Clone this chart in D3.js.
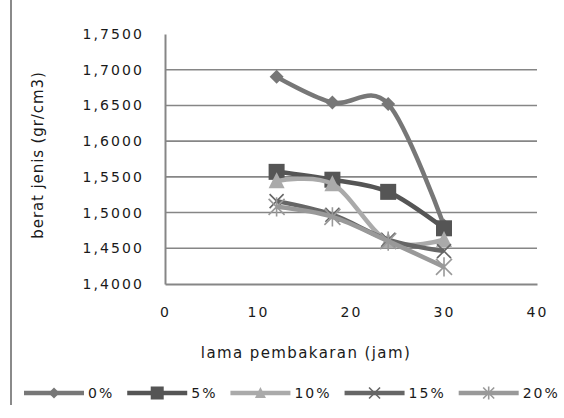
<!DOCTYPE html>
<html>
<head>
<meta charset="utf-8">
<script src="https://cdn.jsdelivr.net/npm/d3@7"></script>
<style>
  html, body { margin: 0; padding: 0; background: #fff; }
  svg { display: block; }
  text { font-family: "DejaVu Sans", sans-serif; fill: #1a1a1a; }
</style>
</head>
<body>
<svg id="chart" width="564" height="418"></svg>
<script>
const hours = [12, 18, 24, 30];
const seriesNames = ["0%", "5%", "10%", "15%", "20%"];
const s0 = [1.690, 1.654, 1.652, 1.482];
const s5 = [1.557, 1.546, 1.529, 1.478];
const s10 = [1.544, 1.540, 1.460, 1.462];
const s15 = [1.516, 1.497, 1.462, 1.446];
const s20 = [1.508, 1.494, 1.460, 1.424];
const yTicks = [1.40, 1.45, 1.50, 1.55, 1.60, 1.65, 1.70, 1.75];
const xTicks = [0, 10, 20, 30, 40];

const seriesValues = [s0, s5, s10, s15, s20];
const colors = ["#777777", "#555555", "#aaaaaa", "#666666", "#999999"];
const markers = ["diamond", "square", "triangle", "cross", "asterisk"];

const svg = d3.select("#chart");
const x = d3.scaleLinear().domain([0, 40]).range([165, 537]);
const y = d3.scaleLinear().domain([1.40, 1.75]).range([284, 34]);

// left border
svg.append("line").attr("x1", 11).attr("x2", 11).attr("y1", 0).attr("y2", 405)
  .attr("stroke", "#8a8a8a").attr("stroke-width", 2);

// gridlines
svg.append("g").selectAll("line").data(yTicks.filter(t => t > 1.40 && t < 1.75)).join("line")
  .attr("x1", x(0)).attr("x2", x(40)).attr("y1", d => y(d)).attr("y2", d => y(d))
  .attr("stroke", "#868686").attr("stroke-width", 1.6);

// axes
const fmt = d => d3.format(".4f")(d).replace(".", ",");
const yAxis = d3.axisLeft(y).tickValues(yTicks).tickFormat(fmt).tickSize(0).tickPadding(21);
const gy = svg.append("g").attr("transform", `translate(${x(0)},0)`).call(yAxis);
gy.select(".domain").attr("stroke", "#868686").attr("stroke-width", 2);
gy.selectAll("text").style("font-size", "14px").style("letter-spacing", "2.1px").attr("fill", "#1a1a1a");

const xAxis = d3.axisBottom(x).tickValues(xTicks).tickFormat(d3.format("d")).tickSize(0).tickPadding(23);
const gx = svg.append("g").attr("transform", `translate(0,${y(1.40)})`).call(xAxis);
gx.select(".domain").attr("stroke", "#868686").attr("stroke-width", 2);
gx.selectAll("text").style("font-size", "14px").style("letter-spacing", "2.1px").attr("fill", "#1a1a1a");

// axis titles
svg.append("text").attr("x", 306).attr("y", 358).attr("text-anchor", "middle")
  .style("font-size", "15px").style("letter-spacing", "1.4px").text("lama pembakaran  (jam)");
svg.append("text").attr("transform", "translate(43,155) rotate(-90)").attr("text-anchor", "middle")
  .style("font-size", "15px").style("letter-spacing", "0.9px").text("berat jenis (gr/cm3)");

function drawMarker(g, type, cx, cy, color, s) {
  if (type === "diamond") {
    g.append("path").attr("d", `M${cx},${cy - s}L${cx + s},${cy}L${cx},${cy + s}L${cx - s},${cy}Z`).attr("fill", color);
  } else if (type === "square") {
    g.append("rect").attr("x", cx - s).attr("y", cy - s).attr("width", 2 * s).attr("height", 2 * s).attr("fill", color);
  } else if (type === "triangle") {
    g.append("path").attr("d", `M${cx},${cy - s * 1.1}L${cx + s},${cy + s * 0.9}L${cx - s},${cy + s * 0.9}Z`).attr("fill", color);
  } else if (type === "cross") {
    g.append("path").attr("d", `M${cx - s},${cy - s}L${cx + s},${cy + s}M${cx - s},${cy + s}L${cx + s},${cy - s}`)
      .attr("stroke", color).attr("stroke-width", 1.6);
  } else if (type === "asterisk") {
    g.append("path").attr("d", `M${cx - s},${cy - s}L${cx + s},${cy + s}M${cx - s},${cy + s}L${cx + s},${cy - s}M${cx},${cy - s * 1.2}L${cx},${cy + s * 1.2}`)
      .attr("stroke", color).attr("stroke-width", 1.6);
  }
}
const markerSize = [7, 8, 8, 7, 8];

const line = d3.line().x((d, i) => x(hours[i])).y(d => y(d)).curve(d3.curveCatmullRom.alpha(0));
const plot = svg.append("g");
seriesValues.forEach((vals, k) => {
  const g = plot.append("g");
  g.append("path").attr("d", line(vals)).attr("fill", "none")
    .attr("stroke", colors[k]).attr("stroke-width", 4.5).attr("stroke-linejoin", "round");
  vals.forEach((v, i) => drawMarker(g, markers[k], x(hours[i]), y(v), colors[k], markerSize[k]));
});

// legend
const legend = svg.append("g");
let lx = 24;
const ly = 393;
seriesNames.forEach((name, k) => {
  const g = legend.append("g");
  g.append("line").attr("x1", lx).attr("x2", lx + 60).attr("y1", ly).attr("y2", ly)
    .attr("stroke", colors[k]).attr("stroke-width", 4.5);
  drawMarker(g, markers[k], lx + 30, ly, colors[k], k === 1 ? 6.5 : 5.5);
  const t = g.append("text").attr("x", lx + 64).attr("y", ly + 5)
    .style("font-size", "14px").style("letter-spacing", "2px").text(name);
  lx = lx + 64 + t.node().getComputedTextLength() + 13;
});
</script>
</body>
</html>
